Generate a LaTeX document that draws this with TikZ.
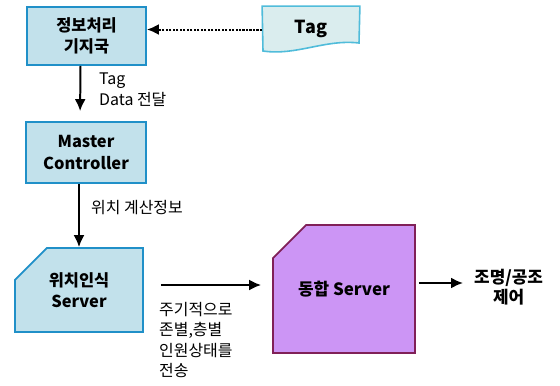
\documentclass[tikz,border=0pt]{standalone}
\usepackage{fontspec}
\setmainfont{Noto Sans CJK KR}
\usetikzlibrary{arrows.meta,shapes.misc}
\definecolor{boxfill}{HTML}{C2E1EB}
\definecolor{boxline}{HTML}{2090C8}
\definecolor{tagfill}{HTML}{DAEDEE}
\definecolor{tagline}{HTML}{50BCDA}
\definecolor{srvfill}{HTML}{CC95F5}
\definecolor{srvline}{HTML}{802058}
\tikzset{
  box/.style={draw=boxline, fill=boxfill, line width=1.8pt, align=center,
    font=\fontsize{16.5}{21.5}\selectfont\bfseries, inner sep=0pt},
  cutbox/.style={box, chamfered rectangle, chamfered rectangle corners=north west},
  arr/.style={line width=2pt, -{Latex[length=12pt,width=11pt]}},
  lbl/.style={font=\fontsize{16}{20.5}\selectfont, align=left, inner sep=0pt}
}
\begin{document}
\begin{tikzpicture}[x=1bp,y=-1bp]
\useasboundingbox (0,0) rectangle (560,385);

% processing base station and master controller
\node[box, minimum width=119bp, minimum height=58bp] (b1) at (86.5,36) {정보처리\\기지국};
\node[box, minimum width=120bp, minimum height=61bp] (b2) at (86,152.5) {Master\\Controller};

% location server (cut corner)
\node[cutbox, minimum width=128bp, minimum height=84bp,
  chamfered rectangle xsep=27bp, chamfered rectangle ysep=14bp] (b3) at (79,290) {위치인식\\Server};

% integrated server (cut corner)
\node[cutbox, draw=srvline, fill=srvfill, minimum width=142bp, minimum height=128bp,
  chamfered rectangle xsep=29bp, chamfered rectangle ysep=25bp,
  font=\fontsize{17}{20}\selectfont\bfseries] (b4) at (344,289) {동합 Server};

% tag (document shape)
\node[box, draw=none, fill=none, minimum width=96bp, minimum height=45bp] (tag) at (311,29.5) {};
\draw[draw=tagline, fill=tagfill, line width=1.6pt]
  (tag.north west) -- (tag.north east) -- (359,43)
  .. controls (325,39) and (296,56) .. (263,51) -- cycle;
\node[font=\fontsize{18}{20}\selectfont\bfseries] (tagtxt) at (311,29) {Tag};

% output text
\node[font=\fontsize{17}{20.5}\selectfont\bfseries, align=center, anchor=west, inner sep=0pt] (out) at (474,287) {조명/공조\\제어};

% connectors
\draw[arr, dash pattern=on 2.2pt off 1.3pt] (tag.west) -- (tag.west -| b1.east);
\draw[arr, shorten >=10bp] ([xshift=-6bp]b1.south) -- ([xshift=-6bp]b2.north);
\draw[arr] (b2.south -| b3.north) -- (b3.north);
\draw[arr] ([xshift=17bp,yshift=5bp]b3.east) -- ([xshift=-11bp,yshift=4bp]b4.west);
\draw[arr, shorten >=11bp] ([xshift=3bp,yshift=6bp]b4.east) -- ([yshift=6bp]b4.east -| out.west);

% labels
\node[lbl, anchor=north west] (l1) at (99,73) {Tag\\Data 전달};
\node[lbl, anchor=west] (l2) at (91,208) {위치 계산정보};
\node[lbl, anchor=north west] (l3) at (159,302) {주기적으로\\존별,층별\\인원상태를\\전송};
\end{tikzpicture}
\end{document}
